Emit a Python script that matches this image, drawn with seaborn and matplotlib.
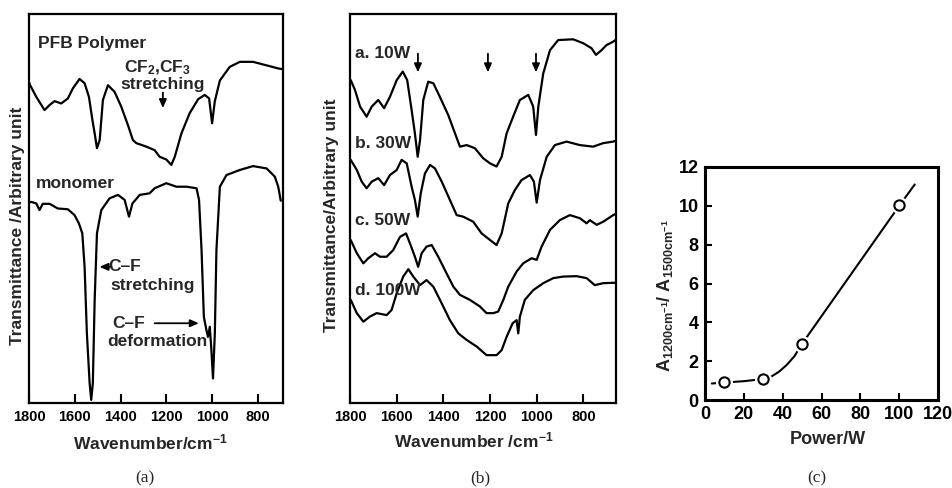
import seaborn as sns
import matplotlib.pyplot as plt

# ---- panel (a): PFB polymer and monomer spectra (arbitrary transmittance, 0-100)
pfb_wn = [1800, 1795, 1768, 1732, 1710, 1688, 1659, 1630, 1608, 1579, 1557, 1538, 1523,
          1513, 1503, 1491, 1477, 1455, 1426, 1397, 1368, 1346, 1331, 1287, 1251, 1229,
          1200, 1178, 1163, 1134, 1098, 1061, 1032, 1013, 1000, 988, 966, 923, 879, 821,
          762, 711, 690]
pfb_t = [82.5, 81.7, 78.7, 75.3, 76.6, 77.6, 77.0, 78.3, 80.9, 83.3, 82.2, 78.7, 72.8,
         69.3, 65.5, 67.6, 77.9, 81.7, 80.0, 76.2, 71.5, 67.6, 66.8, 65.9, 65.0, 63.3,
         62.6, 61.2, 63.3, 69.3, 74.5, 78.1, 79.2, 78.3, 71.9, 77.6, 82.9, 86.4, 87.7,
         87.7, 86.8, 86.0, 85.8]

mono_wn = [1800, 1790, 1768, 1754, 1740, 1710, 1674, 1630, 1601, 1582, 1567, 1557, 1547,
           1535, 1528, 1521, 1513, 1503, 1484, 1448, 1411, 1382, 1363, 1348, 1316, 1273,
           1251, 1200, 1156, 1112, 1068, 1057, 1046, 1036, 1025, 1018, 1010, 1003, 996,
           988, 981, 966, 937, 879, 821, 762, 726, 711, 700]
mono_t = [51.5, 51.7, 51.3, 49.6, 51.2, 51.2, 50.0, 49.8, 48.3, 46.2, 43.6, 35.0, 17.9,
          5.1, 0.8, 5.1, 26.5, 43.6, 49.6, 52.6, 53.5, 52.2, 47.9, 51.3, 53.5, 53.9,
          55.2, 56.5, 55.6, 55.6, 55.2, 52.2, 39.3, 22.2, 18.8, 17.0, 19.6, 13.6, 6.3,
          17.9, 39.3, 55.6, 58.6, 59.9, 60.9, 60.3, 58.2, 55.6, 52.0]

# ---- panel (b): polymer spectra at different discharge power
wn_10w = [1797, 1779, 1757, 1729, 1707, 1679, 1654, 1629, 1600, 1574, 1555, 1536, 1522,
          1510, 1500, 1486, 1465, 1443, 1415, 1379, 1350, 1329, 1300, 1265, 1229, 1200,
          1172, 1150, 1129, 1101, 1072, 1036, 1015, 1003, 993, 972, 943, 908, 844, 801,
          765, 746, 722, 701, 672, 662]
t_10w = [83.0, 80.5, 76.2, 73.6, 76.2, 77.9, 75.8, 78.7, 83.0, 85.2, 83.0, 75.3, 69.3,
         63.3, 67.6, 77.9, 82.6, 82.2, 78.7, 74.0, 69.3, 65.9, 66.3, 65.5, 62.9, 61.6,
         60.8, 63.3, 69.3, 73.6, 77.9, 79.2, 76.2, 68.9, 76.2, 84.7, 90.7, 93.3, 93.5,
         92.5, 91.2, 89.5, 90.7, 92.0, 92.9, 93.3]

wn_30w = [1797, 1771, 1750, 1729, 1707, 1679, 1654, 1629, 1600, 1579, 1557, 1536, 1522,
          1510, 1497, 1479, 1457, 1436, 1407, 1372, 1343, 1315, 1272, 1236, 1200, 1172,
          1150, 1122, 1093, 1065, 1029, 1012, 1000, 986, 957, 922, 872, 815, 758, 715,
          672, 662]
t_30w = [62.5, 59.9, 56.9, 55.2, 56.9, 57.8, 56.0, 58.6, 59.9, 62.5, 61.6, 55.6, 52.2,
         47.9, 53.9, 59.0, 61.2, 60.3, 56.9, 52.2, 48.3, 47.9, 46.6, 43.6, 41.9, 40.6,
         43.6, 51.3, 54.8, 57.3, 58.6, 56.9, 51.5, 57.3, 63.3, 66.3, 67.2, 66.3, 65.9,
         66.8, 67.2, 67.4]

wn_50w = [1797, 1771, 1743, 1722, 1693, 1672, 1643, 1615, 1586, 1560, 1543, 1522, 1508,
          1493, 1472, 1450, 1422, 1386, 1357, 1329, 1286, 1243, 1215, 1186, 1165, 1143,
          1122, 1086, 1058, 1022, 1000, 979, 943, 901, 858, 815, 786, 772, 743, 715,
          672, 662]
t_50w = [41.9, 38.5, 35.9, 37.2, 38.5, 37.6, 37.6, 39.3, 42.7, 43.6, 41.0, 37.6, 35.0,
         38.5, 40.2, 40.6, 37.6, 33.3, 29.9, 27.8, 26.5, 24.8, 23.1, 23.1, 23.5, 26.5,
         29.9, 33.8, 35.9, 37.2, 36.8, 40.2, 44.5, 47.0, 48.3, 47.5, 46.2, 47.0, 45.8,
         46.6, 48.3, 48.6]

wn_100w = [1797, 1771, 1743, 1715, 1686, 1643, 1622, 1600, 1572, 1550, 1529, 1500, 1472,
           1443, 1407, 1372, 1336, 1300, 1257, 1215, 1172, 1150, 1129, 1103, 1086, 1079,
           1072, 1051, 1015, 972, 929, 886, 829, 786, 751, 715, 672, 662]
t_100w = [26.5, 23.1, 20.9, 22.2, 23.1, 22.6, 23.9, 28.2, 32.5, 34.4, 32.5, 30.3, 31.6,
          29.9, 25.6, 21.3, 17.9, 16.2, 14.5, 12.3, 12.3, 13.6, 17.0, 20.5, 21.3, 17.9,
          22.2, 26.5, 29.0, 30.8, 32.1, 32.5, 32.6, 32.1, 30.3, 30.8, 30.9, 30.9]

spectra_b = [(wn_10w, t_10w, "a. 10W", 89.9), (wn_30w, t_30w, "b. 30W", 66.8),
             (wn_50w, t_50w, "c. 50W", 47.0), (wn_100w, t_100w, "d. 100W", 29.0)]
arrow_wn_b = [1509, 1209, 1003]

# ---- panel (c): absorbance ratio vs power
power = [10, 30, 50, 100]
ratio = [0.92, 1.07, 2.9, 10.05]
curve_power = [3.5, 10, 20, 30, 34, 38, 42, 46, 50, 100, 108]
curve_ratio = [0.85, 0.9, 0.97, 1.08, 1.2, 1.45, 1.8, 2.25, 2.9, 10.0, 11.1]

sns.set_style("ticks")
plt.rcParams['font.family'] = ['Liberation Sans', 'DejaVu Sans']
plt.rcParams['font.weight'] = 'bold'
plt.rcParams['axes.labelweight'] = 'bold'
plt.rcParams['mathtext.fontset'] = 'custom'
plt.rcParams['mathtext.rm'] = 'Liberation Sans:bold'
plt.rcParams['mathtext.it'] = 'Liberation Sans:bold'
plt.rcParams['mathtext.bf'] = 'Liberation Sans:bold'

fig = plt.figure(figsize=(9.53, 4.88), dpi=100)
ax_a = fig.add_axes([0.0304, 0.1742, 0.2666, 0.7971])
ax_b = fig.add_axes([0.3673, 0.1742, 0.2791, 0.7971])
ax_c = fig.add_axes([0.7398, 0.1803, 0.2445, 0.4775])

arrow_kw = dict(arrowstyle="-|>,head_length=0.5,head_width=0.22", color="black", lw=1.3,
                shrinkA=0, shrinkB=0)
fs = 12.5


def style_spectrum(ax, right_lim):
    ax.set_xlim(1800, right_lim)
    ax.set_ylim(0, 100)
    ax.set_yticks([])
    ax.set_xticks([1800, 1600, 1400, 1200, 1000, 800])
    ax.tick_params(axis="x", direction="in", length=6.5, width=1.5, labelsize=10.5,
                   pad=5, colors="black")
    for sp in ax.spines.values():
        sp.set_linewidth(1.6)
        sp.set_color("black")


# (a)
sns.lineplot(x=pfb_wn, y=pfb_t, ax=ax_a, color="black", lw=1.6, sort=False, estimator=None)
sns.lineplot(x=mono_wn, y=mono_t, ax=ax_a, color="black", lw=1.6, sort=False, estimator=None)
style_spectrum(ax_a, 690)
ax_a.set_xlabel("Wavenumber/cm$^{-1}$", fontsize=fs)
ax_a.xaxis.set_label_coords(0.476, -0.075)
ax_a.xaxis.label.set_va("top")
ax_a.set_ylabel("Transmittance /Arbitrary unit", fontsize=fs)
ax_a.yaxis.set_label_coords(-0.047, 0.455)
ax_a.yaxis.label.set_va("center")

ax_a.text(1762, 92.5, "PFB Polymer", fontsize=fs, ha="left", va="center")
ax_a.text(1240, 86.1, "CF$_2$,CF$_3$", fontsize=fs, ha="center", va="center")
ax_a.text(1214, 82.0, "stretching", fontsize=fs, ha="center", va="center")
ax_a.annotate("", xy=(1215, 75.8), xytext=(1215, 79.8), arrowprops=arrow_kw)
ax_a.text(1596, 56.3, "monomer", fontsize=fs, ha="center", va="center")
ax_a.annotate("", xy=(1492, 35.0), xytext=(1440, 35.0), arrowprops=arrow_kw)
ax_a.text(1382, 35.0, "C–F", fontsize=fs, ha="center", va="center")
ax_a.text(1260, 30.3, "stretching", fontsize=fs, ha="center", va="center")
ax_a.text(1366, 20.5, "C–F", fontsize=fs, ha="center", va="center")
ax_a.annotate("", xy=(1058, 20.5), xytext=(1251, 20.5), arrowprops=arrow_kw)
ax_a.text(1241, 15.7, "deformation", fontsize=fs, ha="center", va="center")

# (b)
for wn, t, label, label_y in spectra_b:
    sns.lineplot(x=wn, y=t, ax=ax_b, color="black", lw=1.6, sort=False, estimator=None)
    ax_b.text(1777, label_y, label, fontsize=fs, ha="left", va="center")
for w in arrow_wn_b:
    ax_b.annotate("", xy=(w, 85.0), xytext=(w, 89.8), arrowprops=arrow_kw)
style_spectrum(ax_b, 660)
ax_b.set_xlabel("Wavenumber /cm$^{-1}$", fontsize=fs)
ax_b.xaxis.set_label_coords(0.466, -0.071)
ax_b.xaxis.label.set_va("top")
ax_b.set_ylabel("Transmittance/Arbitrary unit", fontsize=fs)
ax_b.yaxis.set_label_coords(-0.071, 0.483)
ax_b.yaxis.label.set_va("center")

# (c)
sns.lineplot(x=curve_power, y=curve_ratio, ax=ax_c, color="black", lw=1.5, sort=False,
             estimator=None)
ax_c.scatter(power, ratio, s=150, color="white", zorder=3, linewidths=0)
ax_c.scatter(power, ratio, s=55, facecolor="white", edgecolor="black", linewidths=1.5,
             zorder=4)
ax_c.set_xlim(0, 120)
ax_c.set_ylim(0, 12)
ax_c.set_xticks(range(0, 121, 20))
ax_c.set_yticks(range(0, 13, 2))
ax_c.tick_params(direction="in", length=5, width=1.5, labelsize=13, pad=4.5, colors="black")
for sp in ax_c.spines.values():
    sp.set_linewidth(2.2)
    sp.set_color("black")
ax_c.set_xlabel("Power/W", fontsize=13)
ax_c.xaxis.set_label_coords(0.528, -0.135)
ax_c.xaxis.label.set_va("top")
ax_c.set_ylabel(r"A$_{1200cm^{-1}}$/ A$_{1500cm^{-1}}$", fontsize=13)
ax_c.yaxis.set_label_coords(-0.17, 0.45)
ax_c.yaxis.label.set_va("center")

# panel captions
for x, cap in [(0.152, "(a)"), (0.5037, "(b)"), (0.857, "(c)")]:
    fig.text(x, 0.0205, cap, fontsize=12.5, family="Liberation Serif", weight="normal",
             ha="center", va="center")

fig.savefig("out.png", dpi=100, facecolor="white")
